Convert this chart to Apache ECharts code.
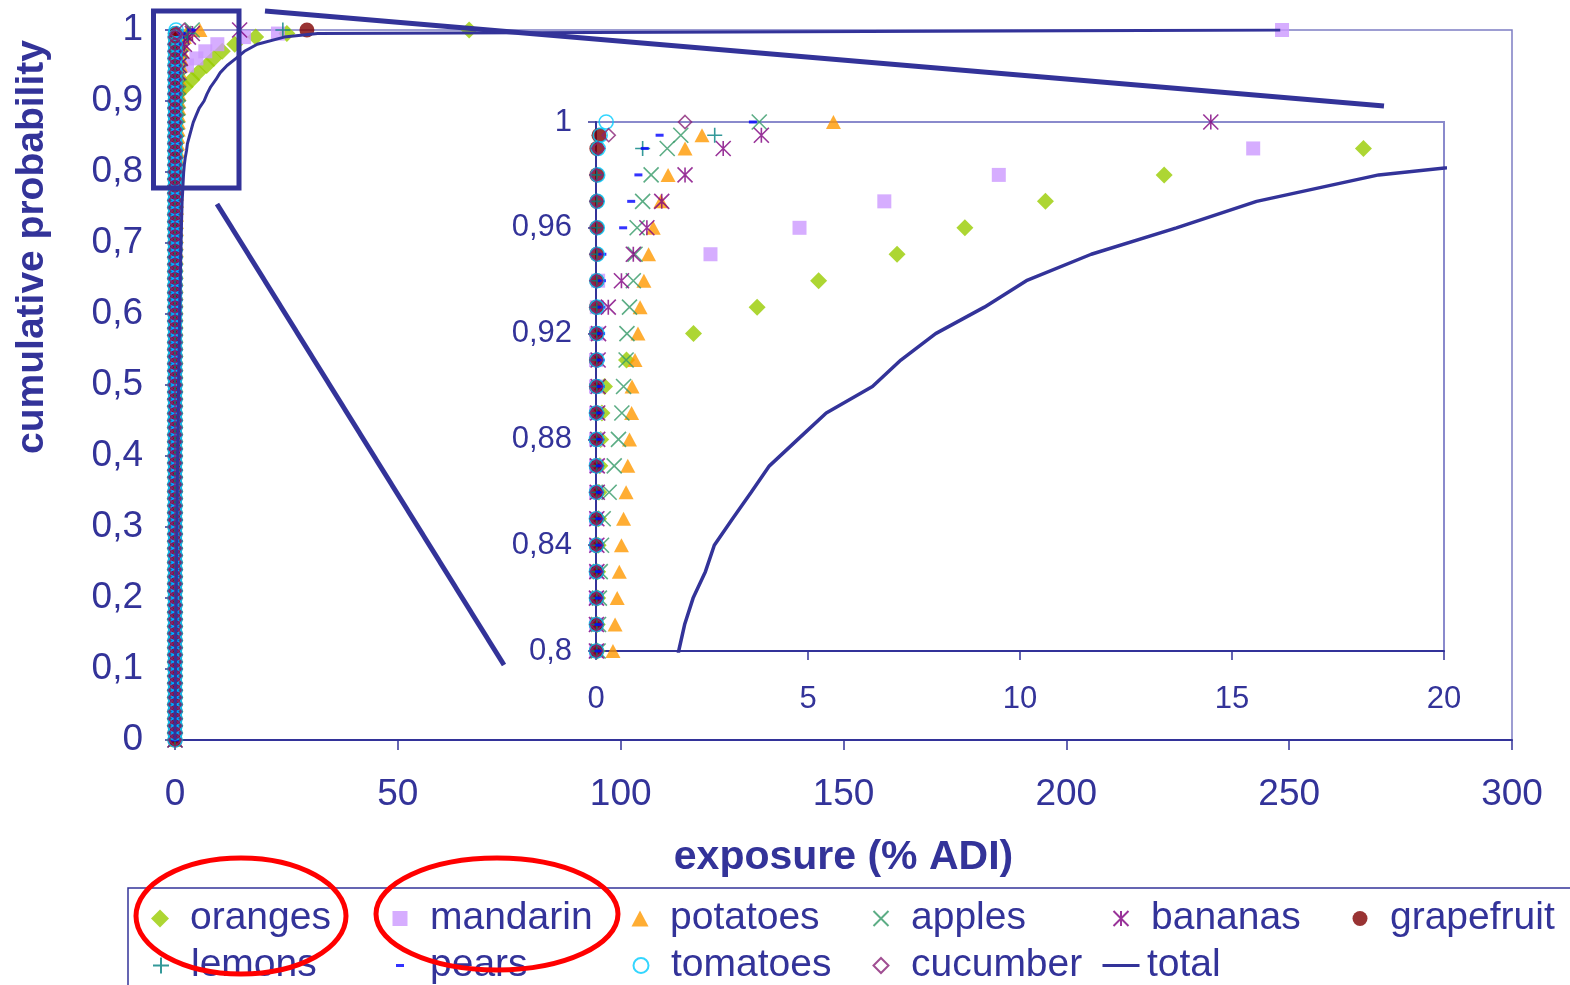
<!DOCTYPE html>
<html>
<head>
<meta charset="utf-8">
<script src="https://cdn.jsdelivr.net/npm/echarts@6/dist/echarts.min.js"></script>
<style>
html,body{margin:0;padding:0;background:#fff;}
#chart{width:1570px;height:985px;}
</style>
</head>
<body>
<div id="chart"></div>
<script>
// cumulative probability levels
const P = [0,0.01,0.02,0.03,0.04,0.05,0.06,0.07,0.08,0.09,
0.1,0.11,0.12,0.13,0.14,0.15,0.16,0.17,0.18,0.19,
0.2,0.21,0.22,0.23,0.24,0.25,0.26,0.27,0.28,0.29,
0.3,0.31,0.32,0.33,0.34,0.35,0.36,0.37,0.38,0.39,
0.4,0.41,0.42,0.43,0.44,0.45,0.46,0.47,0.48,0.49,
0.5,0.51,0.52,0.53,0.54,0.55,0.56,0.57,0.58,0.59,
0.6,0.61,0.62,0.63,0.64,0.65,0.66,0.67,0.68,0.69,
0.7,0.71,0.72,0.73,0.74,0.75,0.76,0.77,0.78,0.79,
0.8,0.81,0.82,0.83,0.84,0.85,0.86,0.87,0.88,0.89,
0.9,0.91,0.92,0.93,0.94,0.95,0.96,0.97,0.98,0.99,
0.995,1];

// exposure (% ADI) for each probability level
const oranges = [0,0,0,0,0,0,0,0,0,0,
0,0,0,0,0,0,0,0,0,0,
0,0,0,0,0,0,0,0,0,0,
0,0,0,0,0,0,0,0,0,0,
0,0,0,0,0,0,0,0,0.01,0.01,
0.01,0.01,0.01,0.01,0.01,0.01,0.01,0.01,0.01,0.01,
0.01,0.01,0.01,0.01,0.02,0.02,0.02,0.02,0.02,0.02,
0.02,0.02,0.02,0.02,0.02,0.03,0.03,0.03,0.03,0.03,
0.03,0.03,0.04,0.04,0.05,0.06,0.07,0.09,0.11,0.14,
0.2,0.72,2.3,3.8,5.25,7.1,8.7,10.6,13.4,18.1,
25.1,66];
const mandarin = [0,0,0,0,0,0,0,0,0,0,
0,0,0,0,0,0,0,0,0,0,
0,0,0,0,0,0,0,0,0,0,
0,0,0,0,0,0,0,0,0,0,
0,0,0,0,0,0,0,0,0,0,
0,0,0,0,0,0,0,0,0,0,
0,0,0,0,0,0,0,0,0,0,
0,0,0,0,0,0,0,0,0,0,
0,0,0,0,0,0,0,0,0,0,
0,0,0.01,0.02,0.05,2.7,4.8,6.8,9.5,15.5,
23.1,248.4];
const potatoes = [0,0,0,0,0,0,0,0,0.01,0.01,
0.01,0.01,0.02,0.02,0.02,0.03,0.03,0.03,0.04,0.04,
0.04,0.05,0.05,0.06,0.06,0.06,0.07,0.07,0.08,0.08,
0.09,0.09,0.1,0.1,0.11,0.11,0.12,0.12,0.13,0.13,
0.14,0.14,0.15,0.15,0.16,0.16,0.17,0.17,0.18,0.18,
0.19,0.19,0.2,0.2,0.21,0.21,0.22,0.22,0.23,0.23,
0.24,0.24,0.25,0.25,0.26,0.26,0.27,0.28,0.29,0.3,
0.3,0.31,0.32,0.32,0.33,0.34,0.35,0.36,0.37,0.38,
0.4,0.45,0.5,0.55,0.6,0.65,0.71,0.75,0.79,0.84,
0.85,0.92,0.99,1.04,1.13,1.24,1.35,1.53,1.7,2.1,
2.5,5.6];
const apples = [0,0,0,0,0,0,0,0,0,0,
0,0,0,0,0,0,0,0,0,0,
0,0,0,0,0,0,0,0,0,0,
0,0,0,0,0,0,0,0,0,0,
0,0,0,0,0,0,0,0,0,0,
0,0,0,0,0,0,0,0,0,0,
0,0,0,0,0.01,0.01,0.01,0.01,0.01,0.01,
0.02,0.02,0.02,0.02,0.03,0.03,0.03,0.04,0.04,0.04,
0.05,0.06,0.08,0.1,0.13,0.17,0.31,0.43,0.53,0.61,
0.65,0.71,0.73,0.79,0.88,0.92,0.97,1.1,1.3,1.68,
2.0,3.85];
const bananas = [0,0,0,0,0,0,0,0,0,0,
0,0,0,0,0,0,0,0,0,0,
0,0,0,0,0,0,0,0,0,0,
0,0,0,0,0,0,0,0,0,0,
0,0,0,0,0,0,0,0,0,0,
0,0,0,0,0,0,0,0,0,0,
0,0,0,0,0,0,0,0,0,0,
0,0,0,0,0,0,0,0,0,0,
0.01,0.01,0.01,0.02,0.02,0.02,0.03,0.03,0.04,0.04,
0.05,0.05,0.06,0.29,0.6,0.88,1.2,1.55,2.1,3.0,
3.9,14.5];
const grapefruit = [0,0,0,0,0,0,0,0,0,0,
0,0,0,0,0,0,0,0,0,0,
0,0,0,0,0,0,0,0,0,0,
0,0,0,0,0,0,0,0,0,0,
0,0,0,0,0,0,0,0,0,0,
0,0,0,0,0,0,0,0,0,0,
0,0,0,0,0,0,0,0,0,0,
0,0,0,0,0,0,0,0,0,0,
0.01,0.01,0.01,0.01,0.01,0.01,0.01,0.01,0.01,0.01,
0.01,0.01,0.01,0.01,0.02,0.02,0.02,0.02,0.02,0.02,
0.07,29.6];
const lemons = [0,0,0,0,0,0,0,0,0,0,
0,0,0,0,0,0,0,0,0,0,
0,0,0,0,0,0,0,0,0,0,
0,0,0,0,0,0,0,0,0,0,
0,0,0,0,0,0,0,0,0,0,
0,0,0,0,0,0,0,0,0,0,
0,0,0,0,0,0,0,0,0,0,
0,0,0,0,0,0,0,0,0,0,
0.02,0.02,0.02,0.02,0.02,0.02,0.02,0.02,0.02,0.02,
0.02,0.02,0.02,0.02,0.02,0.02,0.02,0.02,0.02,1.1,
2.8,24.2];
const pears = [0,0,0,0,0,0,0,0,0,0,
0,0,0,0,0,0,0,0,0,0,
0,0,0,0,0,0,0,0,0,0,
0,0,0,0,0,0,0,0,0,0,
0,0,0,0,0,0,0,0,0,0,
0,0,0,0,0,0,0,0,0,0,
0.01,0.01,0.01,0.01,0.01,0.02,0.02,0.02,0.02,0.02,
0.03,0.03,0.03,0.03,0.04,0.04,0.04,0.05,0.05,0.05,
0.06,0.06,0.07,0.07,0.08,0.08,0.09,0.09,0.1,0.1,
0.11,0.11,0.12,0.13,0.14,0.15,0.64,0.83,1.0,1.15,
1.5,3.7];
const tomatoes = [0,0,0,0,0,0,0,0,0,0,
0,0,0,0,0,0,0,0,0,0,
0,0,0,0,0,0,0,0,0,0,
0,0,0,0,0,0,0,0,0,0,
0,0,0,0,0,0,0,0,0,0,
0,0,0,0,0,0,0,0,0,0,
0,0,0,0,0,0,0,0,0,0,
0,0,0,0,0,0,0,0,0,0,
0.01,0.01,0.01,0.01,0.01,0.01,0.01,0.01,0.01,0.01,
0.02,0.02,0.02,0.02,0.02,0.03,0.03,0.03,0.04,0.05,
0.1,0.24];
const cucumber = [0,0,0,0,0,0,0,0,0,0,
0,0,0,0,0,0,0,0,0,0,
0,0,0,0,0,0,0,0,0,0,
0,0,0,0,0,0,0,0,0,0,
0,0,0,0,0,0,0,0,0,0,
0,0,0,0,0,0,0,0,0,0,
0,0,0,0,0,0,0,0,0,0,
0,0,0,0,0,0,0,0,0,0,
0.01,0.01,0.01,0.01,0.01,0.01,0.01,0.01,0.01,0.01,
0.01,0.01,0.01,0.01,0.01,0.01,0.01,0.01,0.01,0.05,
0.3,2.1];
const total = [0,0.01,0.02,0.04,0.05,0.06,0.07,0.09,0.1,0.11,
0.13,0.14,0.15,0.17,0.18,0.2,0.21,0.22,0.24,0.25,
0.27,0.28,0.3,0.31,0.33,0.34,0.36,0.37,0.39,0.4,
0.42,0.44,0.45,0.47,0.49,0.5,0.52,0.54,0.56,0.57,
0.59,0.61,0.63,0.65,0.67,0.69,0.71,0.73,0.75,0.77,
0.79,0.81,0.84,0.86,0.88,0.91,0.93,0.96,0.98,1.01,
1.04,1.06,1.09,1.12,1.15,1.18,1.21,1.25,1.28,1.32,
1.35,1.39,1.43,1.47,1.52,1.56,1.61,1.7,1.78,1.86,
1.95,2.09,2.29,2.58,2.79,3.22,3.66,4.09,4.76,5.43,
6.52,7.19,8.01,9.16,10.15,11.68,13.69,15.58,18.46,24.5,
32,248];

const seriesNames = ['oranges','mandarin','potatoes','apples','bananas','grapefruit','lemons','pears','tomatoes','cucumber','total'];
const seriesValues = {oranges, mandarin, potatoes, apples, bananas, grapefruit, lemons, pears, tomatoes, cucumber, total};
const mainXTicks = [0,50,100,150,200,250,300];
const insetXTicks = [0,5,10,15,20];

const INK = '#333399';
const FONT = '"Liberation Sans", Arial, sans-serif';

const looks = {
  oranges:   {symbol:'diamond', size:[17,17], fill:'#99CC00'},
  mandarin:  {symbol:'rect', size:[14,14], fill:'#CC99FF'},
  potatoes:  {symbol:'triangle', size:[15,14], fill:'#FF9900'},
  apples:    {symbol:'path://M0,0L10,10M10,0L0,10', size:[15,15], stroke:'#339966'},
  bananas:   {symbol:'path://M0,0L10,10M10,0L0,10M5,0L5,10', size:[15,15], stroke:'#800080'},
  grapefruit:{symbol:'circle', size:[15,15], fill:'#800000'},
  lemons:    {symbol:'path://M5,0L5,10M0,5L10,5', size:[15,15], stroke:'#008080'},
  pears:     {symbol:'rect', size:[8,3], fill:'#0000FF'},
  tomatoes:  {symbol:'path://M10,5A5,5,0,1,1,0,5A5,5,0,1,1,10,5Z', size:[14,14], stroke:'#00CCFF'},
  cucumber:  {symbol:'path://M5,0L10,5L5,10L0,5Z', size:[13,13], stroke:'#882277'}
};

function pairs(xs){ return xs.map((x,i)=>[x,P[i]]); }
function fmt(v){ return String(Math.round(v*100)/100).replace('.', ','); }

const series = [];
[0,1].forEach(g=>{
  seriesNames.forEach(name=>{
    if (name === 'total') {
      series.push({
        name, type:'line', xAxisIndex:g, yAxisIndex:g, data:pairs(seriesValues[name]),
        symbol:'none', showSymbol:false, smooth:false,
        lineStyle:{color:INK, width: g===0 ? 3 : 3.5}, itemStyle:{color:INK},
        silent:true, z:3
      });
    } else {
      const lk = looks[name];
      const itemStyle = lk.stroke
        ? {color:'rgba(0,0,0,0)', borderColor:lk.stroke, borderWidth:1.6}
        : {color:lk.fill};
      series.push({
        name, type:'scatter', xAxisIndex:g, yAxisIndex:g, data:pairs(seriesValues[name]),
        symbol:lk.symbol, symbolSize:lk.size, itemStyle, silent:true, z:2
      });
    }
  });
});

// legend layout: [iconCenterX, rowCenterY, textStartX, itemWidth, itemHeight]
const legendPos = {
  oranges:[160,915,190,18,18], mandarin:[400,915,430,15,15], potatoes:[640,915,670,17,16],
  apples:[880,915,910,15,15], bananas:[1120,915,1150,15,16], grapefruit:[1360,915,1390,15,15],
  lemons:[160,962,190,16,16], pears:[400,962,430,8,3], tomatoes:[640,962,670,15,15],
  cucumber:[880,962,910,15,15], total:[1121,962,1147,37,3]
};
const legends = seriesNames.map(name=>{
  const [cx, cy, tx, w, h] = legendPos[name];
  const left = cx - w/2;
  const pad = tx - (left + w + 5);
  const lg = {
    data:[name], left, top: cy - 16, padding:0, itemWidth:w, itemHeight:h, itemGap:0,
    selectedMode:false, orient:'horizontal',
    formatter:'{t|{name}}',
    textStyle:{color:INK, fontSize:39, fontFamily:FONT,
      rich:{t:{padding:[0,0,0,Math.max(pad,0)], fontSize:39, lineHeight:40, color:INK, fontFamily:FONT}}}
  };
  if (name === 'total') { lg.icon = 'rect'; }
  return lg;
});

const axisCommon = {
  axisLine:{show:true, onZero:false, lineStyle:{color:INK, width:2}},
  axisTick:{show:true, inside:false, lineStyle:{color:INK, width:1.5}},
  splitLine:{show:false}
};

const option = {
  animation:false,
  backgroundColor:'#fff',
  grid:[
    {left:175, top:30, right:58, bottom:245, show:true, borderColor:'#7E7EC4', borderWidth:1.5, backgroundColor:'rgba(0,0,0,0)'},
    {left:596, top:122, right:126, bottom:334, show:true, borderColor:'#8A8ACC', borderWidth:2, backgroundColor:'rgba(0,0,0,0)'}
  ],
  xAxis:[
    Object.assign({}, axisCommon, {type:'value', gridIndex:0, min:mainXTicks[0], max:mainXTicks[mainXTicks.length-1], interval:mainXTicks[1]-mainXTicks[0],
      axisTick:{show:true, length:10, lineStyle:{color:INK, width:1.5}},
      axisLabel:{color:INK, fontSize:37, fontFamily:FONT, margin:36},
      name:'exposure (% ADI)', nameLocation:'middle', nameGap:97,
      nameTextStyle:{color:INK, fontSize:41, fontWeight:'bold', fontFamily:FONT}}),
    Object.assign({}, axisCommon, {type:'value', gridIndex:1, min:insetXTicks[0], max:insetXTicks[insetXTicks.length-1], interval:insetXTicks[1]-insetXTicks[0],
      axisTick:{show:true, length:9, lineStyle:{color:INK, width:1.5}},
      axisLabel:{color:INK, fontSize:31, fontFamily:FONT, margin:33}})
  ],
  yAxis:[
    Object.assign({}, axisCommon, {type:'value', gridIndex:0, min:0, max:1, interval:0.1,
      axisTick:{show:true, length:10, lineStyle:{color:INK, width:1.5}},
      axisLabel:{color:INK, fontSize:37, fontFamily:FONT, margin:32, padding:[6,0,0,0], formatter:fmt}}),
    Object.assign({}, axisCommon, {type:'value', gridIndex:1, min:0.8, max:1, interval:0.04,
      axisTick:{show:true, length:8, lineStyle:{color:INK, width:1.5}},
      axisLabel:{color:INK, fontSize:31, fontFamily:FONT, margin:24, padding:[6,0,0,0], formatter:fmt}})
  ],
  legend: legends,
  series,
  graphic:[
    {type:'text', x:32, y:247, rotation:Math.PI/2, z:50,
      style:{text:'cumulative probability', fill:INK, font:'bold 39px ' + FONT, align:'center', verticalAlign:'middle'}},
    {type:'rect', z:1, shape:{x:128, y:888, width:1500, height:200},
      style:{fill:'none', stroke:INK, lineWidth:1.5}},
    {type:'rect', z:60, shape:{x:153.5, y:11, width:85.5, height:177},
      style:{fill:'none', stroke:INK, lineWidth:5}},
    {type:'line', z:60, shape:{x1:265, y1:11, x2:1384, y2:106},
      style:{stroke:INK, lineWidth:5}},
    {type:'line', z:60, shape:{x1:217, y1:204, x2:504, y2:665},
      style:{stroke:INK, lineWidth:5}},
    {type:'ellipse', z:70, shape:{cx:241, cy:916, rx:105, ry:58},
      style:{fill:'none', stroke:'#FF0000', lineWidth:5}},
    {type:'ellipse', z:70, shape:{cx:497, cy:914, rx:121, ry:56},
      style:{fill:'none', stroke:'#FF0000', lineWidth:5}}
  ]
};

const chart = echarts.init(document.getElementById('chart'), null, {renderer:'canvas'});
chart.setOption(option);
</script>
</body>
</html>
